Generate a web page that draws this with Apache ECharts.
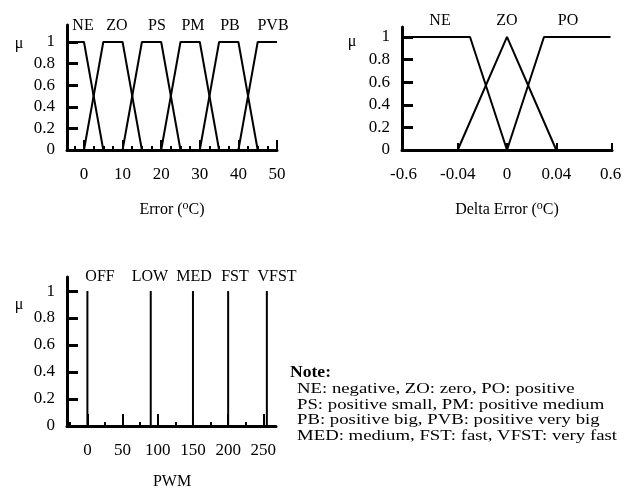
<!DOCTYPE html>
<html>
<head>
<meta charset="utf-8">
<script src="https://cdn.jsdelivr.net/npm/echarts@6/dist/echarts.min.js"></script>
<style>
html, body { margin: 0; padding: 0; background: #fff; }
#chart { width: 626px; height: 493px; }
</style>
</head>
<body>
<div id="chart"></div>
<script>
// membership grades (y axis of all three plots)
const muTicks = [0, 0.2, 0.4, 0.6, 0.8, 1];

// Error (oC): trapezoids
const errTicks = [0, 10, 20, 30, 40, 50];
const errMinor = [-2.5, 2.5, 5, 7.5, 12.5, 15, 17.5, 22.5, 25, 27.5, 32.5, 35, 37.5, 42.5, 45, 47.5];
const errNE = [[-4.4, 1], [0, 1], [5, 0]];
const errZO = [[0, 0], [5, 1], [10, 1], [15, 0]];
const errPS = [[10, 0], [15, 1], [20, 1], [25, 0]];
const errPM = [[20, 0], [25, 1], [30, 1], [35, 0]];
const errPB = [[30, 0], [35, 1], [40, 1], [45, 0]];
const errPVB = [[40, 0], [45, 1], [50, 1]];

// Delta Error (oC): axis is not linear, ticks are equally spaced
const dErrTicks = [-0.6, -0.04, 0, 0.04, 0.6];
const dErrNE = [[-0.6, 1], [-0.03, 1], [0, 0]];
const dErrZO = [[-0.04, 0], [0, 1], [0.04, 0]];
const dErrPO = [[0, 0], [0.03, 1], [0.6, 1]];

// PWM: singletons
const pwmTicks = [0, 50, 100, 150, 200, 250];
const pwmMinor = [-25, 25, 75, 125, 175, 225];
const pwmNames = ['OFF', 'LOW', 'MED', 'FST', 'VFST'];
const pwmValues = [0, 90, 150, 200, 255];

const notes = [
    'NE: negative, ZO: zero, PO: positive',
    'PS: positive small, PM: positive medium',
    'PB: positive big, PVB: positive very big',
    'MED: medium, FST: fast, VFST: very fast'
];

const FONT = '"Liberation Serif", "Times New Roman", serif';

// piecewise scale for delta error: +-0.04 -> +-1, +-0.6 -> +-2.1
function dePos(v) {
    const a = Math.abs(v);
    const p = a <= 0.04 ? a / 0.04 : 1 + (a - 0.04) / 0.56 * 1.1;
    return v < 0 ? -p : p;
}

const chart = echarts.init(document.getElementById('chart'));

const lineStyle = { color: '#000', width: 3 };

function mainX(grid, min, max, ticks, labels, tickLen, formatter) {
    return {
        type: 'value', gridIndex: grid, min: min, max: max, position: 'bottom',
        axisLine: { show: true, onZero: false, lineStyle: lineStyle },
        axisTick: { show: true, inside: true, length: tickLen, customValues: ticks, lineStyle: { color: '#000', width: 2 } },
        axisLabel: { show: true, customValues: labels, margin: 16, color: '#000', fontSize: 17, fontFamily: FONT, formatter: formatter },
        splitLine: { show: false }
    };
}

function minorX(grid, min, max, ticks) {
    return {
        type: 'value', gridIndex: grid, min: min, max: max, position: 'bottom', offset: 0,
        axisLine: { show: false },
        axisTick: { show: true, inside: true, length: 4, customValues: ticks, lineStyle: { color: '#000', width: 2 } },
        axisLabel: { show: false },
        splitLine: { show: false }
    };
}

function muY(grid, max) {
    return {
        type: 'value', gridIndex: grid, min: 0, max: max,
        axisLine: { show: true, onZero: false, lineStyle: lineStyle },
        axisTick: { show: true, inside: true, length: 11, customValues: muTicks, lineStyle: { color: '#000', width: 3 } },
        axisLabel: { show: true, customValues: muTicks, margin: 12, color: '#000', fontSize: 17, fontFamily: FONT },
        splitLine: { show: false }
    };
}

function mf(name, data, xi, yi) {
    return {
        name: name, type: 'line', xAxisIndex: xi, yAxisIndex: yi, data: data,
        symbol: 'none', clip: false, lineStyle: { color: '#000', width: 2 }
    };
}

function txt(x, y, text, opts, extra) {
    return Object.assign({
        type: 'text', x: x, y: y, silent: true,
        style: Object.assign({
            text: text, fill: '#000', font: '16px ' + FONT,
            align: 'center', verticalAlign: 'middle'
        }, opts || {})
    }, extra || {});
}

const supRich = { sup: { fontSize: 12, fontFamily: FONT, padding: [0, 0, 8, 0] } };
const noteStyle = { align: 'left', font: '15px ' + FONT };

const option = {
    animation: false,
    backgroundColor: '#fff',
    grid: [
        { left: 67, top: 25, width: 210, height: 125 },
        { left: 402, top: 27, width: 210, height: 123 },
        { left: 67, top: 277, width: 209, height: 149 }
    ],
    xAxis: [
        mainX(0, -4.4, 50, errTicks, errTicks, 10),
        minorX(0, -4.4, 50, errMinor),
        mainX(1, -2.13, 2.13, [-1, 0, 1, 2.13], dErrTicks.map(dePos), 7, function (v) {
            const t = dErrTicks.find(function (d) { return Math.abs(dePos(d) - v) < 1e-6; });
            return t === undefined ? '' : String(t);
        }),
        mainX(2, -29, 268, pwmTicks, pwmTicks, 12),
        minorX(2, -29, 268, pwmMinor)
    ],
    yAxis: [
        muY(0, 1.157),
        muY(1, 1.088),
        muY(2, 1.104)
    ],
    series: [
        mf('NE', errNE, 0, 0),
        mf('ZO', errZO, 0, 0),
        mf('PS', errPS, 0, 0),
        mf('PM', errPM, 0, 0),
        mf('PB', errPB, 0, 0),
        mf('PVB', errPVB, 0, 0),
        mf('NE', dErrNE.map(function (p) { return [dePos(p[0]), p[1]]; }), 2, 1),
        mf('ZO', dErrZO.map(function (p) { return [dePos(p[0]), p[1]]; }), 2, 1),
        mf('PO', dErrPO.map(function (p) { return [dePos(p[0]), p[1]]; }), 2, 1),
        {
            name: 'PWM', type: 'bar', xAxisIndex: 3, yAxisIndex: 2,
            data: pwmValues.map(function (v) { return [v, 1]; }),
            barWidth: 2, itemStyle: { color: '#000' }
        }
    ],
    graphic: [
        // y titles
        txt(19, 44, 'μ', { font: '16px ' + FONT }),
        txt(352, 42, 'μ', { font: '16px ' + FONT }),
        txt(19, 305, 'μ', { font: '16px ' + FONT }),
        // term labels, Error
        txt(83, 26, 'NE'), txt(117, 26, 'ZO'), txt(157, 26, 'PS'),
        txt(193, 26, 'PM'), txt(230, 26, 'PB'), txt(273, 26, 'PVB'),
        // term labels, Delta Error
        txt(440, 21, 'NE'), txt(507, 21, 'ZO'), txt(568, 21, 'PO'),
        // term labels, PWM
        txt(100, 277, pwmNames[0]), txt(150, 277, pwmNames[1]), txt(194, 277, pwmNames[2]),
        txt(235, 277, pwmNames[3]), txt(277, 277, pwmNames[4]),
        // axis titles
        txt(172, 210, 'Error ({sup|o}C)', { rich: supRich }),
        txt(507, 210, 'Delta Error ({sup|o}C)', { rich: supRich }),
        txt(172, 482, 'PWM'),
        // note
        txt(290, 373, 'Note:', { align: 'left', font: 'bold 16px ' + FONT }, { scaleX: 1.1 }),
        txt(297, 389, notes[0], noteStyle, { scaleX: 1.25 }),
        txt(297, 405, notes[1], noteStyle, { scaleX: 1.25 }),
        txt(297, 420, notes[2], noteStyle, { scaleX: 1.25 }),
        txt(297, 436, notes[3], noteStyle, { scaleX: 1.25 })
    ]
};

chart.setOption(option);
</script>
</body>
</html>
